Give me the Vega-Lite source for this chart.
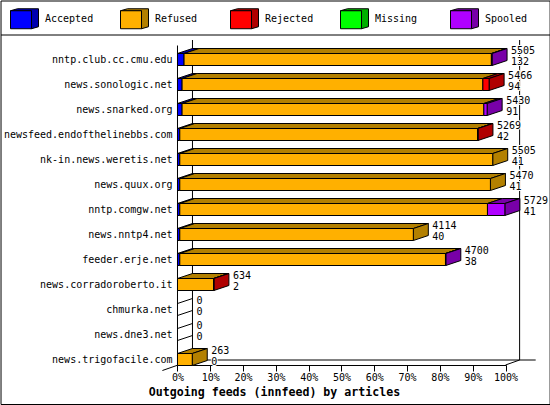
{
"$schema":"https://vega.github.io/schema/vega-lite/v6.json",
"width":329,"height":325,
"autosize":{"type":"none"},
"padding":{"left":177,"top":40,"right":44,"bottom":40},
"background":"white",
"config":{"view":{"stroke":null},"text":{"font":"DejaVu Sans Mono"}},
"datasets":{
"segments":[
{"host":"nntp.club.cc.cmu.edu","row":0,"category":"Accepted","start":0,"end":2.0},
{"host":"nntp.club.cc.cmu.edu","row":0,"category":"Refused","start":2.0,"end":95.7},
{"host":"nntp.club.cc.cmu.edu","row":0,"category":"Spooled","start":95.7,"end":95.9},
{"host":"news.sonologic.net","row":1,"category":"Accepted","start":0,"end":1.4},
{"host":"news.sonologic.net","row":1,"category":"Refused","start":1.4,"end":93.1},
{"host":"news.sonologic.net","row":1,"category":"Rejected","start":93.1,"end":95.0},
{"host":"news.snarked.org","row":2,"category":"Accepted","start":0,"end":1.4},
{"host":"news.snarked.org","row":2,"category":"Refused","start":1.4,"end":93.4},
{"host":"news.snarked.org","row":2,"category":"Spooled","start":93.4,"end":94.4},
{"host":"newsfeed.endofthelinebbs.com","row":3,"category":"Accepted","start":0,"end":0.7},
{"host":"newsfeed.endofthelinebbs.com","row":3,"category":"Refused","start":0.7,"end":91.5},
{"host":"newsfeed.endofthelinebbs.com","row":3,"category":"Rejected","start":91.5,"end":91.6},
{"host":"nk-in.news.weretis.net","row":4,"category":"Accepted","start":0,"end":0.7},
{"host":"nk-in.news.weretis.net","row":4,"category":"Refused","start":0.7,"end":96.1},
{"host":"news.quux.org","row":5,"category":"Accepted","start":0,"end":0.7},
{"host":"news.quux.org","row":5,"category":"Refused","start":0.7,"end":95.4},
{"host":"nntp.comgw.net","row":6,"category":"Accepted","start":0,"end":0.7},
{"host":"nntp.comgw.net","row":6,"category":"Refused","start":0.7,"end":94.5},
{"host":"nntp.comgw.net","row":6,"category":"Spooled","start":94.5,"end":99.8},
{"host":"news.nntp4.net","row":7,"category":"Accepted","start":0,"end":0.7},
{"host":"news.nntp4.net","row":7,"category":"Refused","start":0.7,"end":71.9},
{"host":"feeder.erje.net","row":8,"category":"Accepted","start":0,"end":0.7},
{"host":"feeder.erje.net","row":8,"category":"Refused","start":0.7,"end":81.7},
{"host":"feeder.erje.net","row":8,"category":"Spooled","start":81.7,"end":81.8},
{"host":"news.corradoroberto.it","row":9,"category":"Refused","start":0,"end":11.0},
{"host":"news.corradoroberto.it","row":9,"category":"Rejected","start":11.0,"end":11.1},
{"host":"news.trigofacile.com","row":12,"category":"Refused","start":0,"end":4.5}
],
"hosts":[
{"host":"nntp.club.cc.cmu.edu","row":0,"end":95.9,"last":"Spooled","articles":"5505","other":"132"},
{"host":"news.sonologic.net","row":1,"end":95.0,"last":"Rejected","articles":"5466","other":"94"},
{"host":"news.snarked.org","row":2,"end":94.4,"last":"Spooled","articles":"5430","other":"91"},
{"host":"newsfeed.endofthelinebbs.com","row":3,"end":91.6,"last":"Rejected","articles":"5269","other":"42"},
{"host":"nk-in.news.weretis.net","row":4,"end":96.1,"last":"Refused","articles":"5505","other":"41"},
{"host":"news.quux.org","row":5,"end":95.4,"last":"Refused","articles":"5470","other":"41"},
{"host":"nntp.comgw.net","row":6,"end":99.8,"last":"Spooled","articles":"5729","other":"41"},
{"host":"news.nntp4.net","row":7,"end":71.9,"last":"Refused","articles":"4114","other":"40"},
{"host":"feeder.erje.net","row":8,"end":81.8,"last":"Spooled","articles":"4700","other":"38"},
{"host":"news.corradoroberto.it","row":9,"end":11.1,"last":"Rejected","articles":"634","other":"2"},
{"host":"chmurka.net","row":10,"end":0,"last":"Refused","articles":"0","other":"0"},
{"host":"news.dne3.net","row":11,"end":0,"last":"Refused","articles":"0","other":"0"},
{"host":"news.trigofacile.com","row":12,"end":4.5,"last":"Refused","articles":"263","other":"0"}
]},
"layer":[
{"data":{"values":[{}]},"mark":{"type":"rect","filled":false,"stroke":"black","strokeWidth":1},
 "encoding":{"x":{"datum":-53.8,"type":"quantitative","scale":{"domain":[-0.15,100.15],"nice":false,"zero":false},
   "axis":{"values":[0,10,20,30,40,50,60,70,80,90,100],"tickCount":20,"labelExpr":"datum.value+'%'","labelOverlap":false,"labelBound":false,"labelFlush":false,"labelFont":"DejaVu Sans Mono","labelFontSize":10,"labelColor":"black","labelPadding":1,"tickSize":6,"tickColor":"black","domainColor":"black","grid":false,
     "title":"Outgoing feeds (innfeed) by articles","titleFont":"DejaVu Sans Mono","titleFontSize":11.6,"titleFontWeight":"bold","titleColor":"black","titleX":97,"titleY":27,"titleAlign":"center","titleBaseline":"middle"}},
  "x2":{"datum":113.6},
  "y":{"datum":-2.34,"type":"quantitative","scale":{"domain":[-0.78,12.22],"nice":false,"zero":false,"reverse":true},
   "axis":{"values":[0,1,2,3,4,5,6,7,8,9,10,11,12],"tickCount":20,"labelExpr":"['nntp.club.cc.cmu.edu','news.sonologic.net','news.snarked.org','newsfeed.endofthelinebbs.com','nk-in.news.weretis.net','news.quux.org','nntp.comgw.net','news.nntp4.net','feeder.erje.net','news.corradoroberto.it','chmurka.net','news.dne3.net','news.trigofacile.com'][datum.value]","labelOverlap":false,"labelBound":false,"labelFlush":false,"labelFont":"DejaVu Sans Mono","labelFontSize":10,"labelColor":"black","labelPadding":5,"labelLimit":200,"ticks":false,"domain":false,"grid":false,"title":null}},
  "y2":{"datum":13.8}}},
{"data":{"values":[{}]},"mark":{"type":"rule","color":"black"},"encoding":{"x":{"datum":-53.8,"type":"quantitative"},"x2":{"datum":113.6},"y":{"datum":-0.98,"type":"quantitative"}}},
{"data":{"values":[{}]},"mark":{"type":"rule","color":"black"},"encoding":{"x":{"datum":0,"type":"quantitative"},"y":{"datum":-0.56,"type":"quantitative"},"y2":{"datum":12.22}}},
{"data":{"values":[{}]},"mark":{"type":"rule","color":"black"},"encoding":{"x":{"datum":4.57,"type":"quantitative"},"y":{"datum":-0.78,"type":"quantitative"},"y2":{"datum":12.02}}},
{"data":{"values":[{}]},"mark":{"type":"rule","color":"black"},"encoding":{"x":{"datum":104.3,"type":"quantitative"},"y":{"datum":-0.78,"type":"quantitative"},"y2":{"datum":12.02}}},
{"data":{"values":[{}]},"mark":{"type":"rule","color":"black"},"encoding":{"x":{"datum":4.57,"type":"quantitative"},"x2":{"datum":109.2},"y":{"datum":12.02,"type":"quantitative"}}},
{"data":{"values":[{}]},"mark":{"type":"rule","color":"black"},"encoding":{"x":{"datum":-4.6,"type":"quantitative"},"x2":{"datum":4.57},"y":{"datum":12.44,"type":"quantitative"},"y2":{"datum":12.02}}},
{"data":{"values":[{}]},"mark":{"type":"rule","color":"black"},"encoding":{"x":{"datum":100,"type":"quantitative"},"x2":{"datum":104.3},"y":{"datum":12.22,"type":"quantitative"},"y2":{"datum":12.02}}},
{"data":{"name":"hosts"},"transform":[{"filter":"datum.end==0"},{"calculate":"datum.row-0.24","as":"upperFront"},{"calculate":"datum.row-0.44","as":"upperBack"}],"mark":{"type":"rule","color":"black"},
 "encoding":{"x":{"datum":0,"type":"quantitative"},"x2":{"datum":4.57},"y":{"field":"upperFront","type":"quantitative"},"y2":{"field":"upperBack"}}},
{"data":{"name":"hosts"},"transform":[{"filter":"datum.end==0"},{"calculate":"datum.row+0.24","as":"lowerFront"},{"calculate":"datum.row+0.04","as":"lowerBack"}],"mark":{"type":"rule","color":"black"},
 "encoding":{"x":{"datum":0,"type":"quantitative"},"x2":{"datum":4.57},"y":{"field":"lowerFront","type":"quantitative"},"y2":{"field":"lowerBack"}}},
{"data":{"name":"segments"},
 "transform":[{"calculate":"[0,1]","as":"k"},{"flatten":["k"]},{"calculate":"datum.row-0.24-0.2*datum.k","as":"yv"},{"calculate":"datum.start+4.57*datum.k","as":"xa"},{"calculate":"datum.end+4.57*datum.k","as":"xb"}],
 "mark":{"type":"area","orient":"horizontal","stroke":"black","strokeWidth":1},
 "encoding":{"y":{"field":"yv","type":"quantitative"},"x":{"field":"xa","type":"quantitative","stack":null},"x2":{"field":"xb"},
  "detail":{"field":"host"},
  "fill":{"field":"category","type":"nominal","legend":null,"scale":{"domain":["Accepted","Refused","Rejected","Missing","Spooled"],"range":["#0000b0","#b38000","#b00000","#00b000","#7800a8"]}}}},
{"data":{"name":"hosts"},
 "transform":[{"filter":"datum.end>0"},{"calculate":"[0,1]","as":"k"},{"flatten":["k"]},{"calculate":"datum.end+4.57*datum.k","as":"xv"},{"calculate":"datum.row-0.24-0.2*datum.k","as":"ya"},{"calculate":"datum.row+0.24-0.2*datum.k","as":"yb"}],
 "mark":{"type":"area","orient":"vertical","stroke":"black","strokeWidth":1},
 "encoding":{"x":{"field":"xv","type":"quantitative"},"y":{"field":"ya","type":"quantitative","stack":null},"y2":{"field":"yb"},
  "detail":{"field":"host"},
  "fill":{"field":"last","type":"nominal","scale":{"domain":["Accepted","Refused","Rejected","Missing","Spooled"],"range":["#0000b0","#b38000","#b00000","#00b000","#7800a8"]},
   "legend":{"orient":"none","legendX":-167,"legendY":-36,"direction":"horizontal","columns":5,"gridAlign":"all","columnPadding":24,"title":null,"symbolType":"M-1,-0.571L-0.5,-0.714H1V0.571L0.5,0.714V-0.571H-1Z","symbolSize":784,"symbolStrokeColor":"black","symbolStrokeWidth":1,"labelOffset":6,"labelFont":"DejaVu Sans Mono","labelFontSize":10,"labelColor":"transparent","symbolOpacity":1}}}},
{"data":{"name":"segments"},
 "transform":[{"calculate":"datum.row-0.24","as":"yTop"},{"calculate":"datum.row+0.24","as":"yBottom"}],
 "mark":{"type":"rect","stroke":"black","strokeWidth":1},
 "encoding":{"x":{"field":"start","type":"quantitative"},"x2":{"field":"end"},"y":{"field":"yTop","type":"quantitative"},"y2":{"field":"yBottom"},
  "fill":{"field":"category","type":"nominal","scale":{"domain":["Accepted","Refused","Rejected","Missing","Spooled"],"range":["#0000ff","#ffb000","#ff0000","#00ff00","#b000ff"]},
   "legend":{"orient":"none","legendX":-167,"legendY":-36,"direction":"horizontal","columns":5,"gridAlign":"all","columnPadding":24,"title":null,"symbolType":"M-1,-0.571H0.5V0.714H-1Z","symbolSize":784,"symbolStrokeColor":"black","symbolStrokeWidth":1,"labelOffset":6,"labelFont":"DejaVu Sans Mono","labelFontSize":10,"labelColor":"black","symbolOpacity":1}}}},
{"data":{"name":"hosts"},"mark":{"type":"text","align":"left","baseline":"middle","dx":19,"dy":-9,"fontSize":10,"font":"DejaVu Sans Mono","fill":"black","stroke":"white","strokeWidth":2},
 "encoding":{"x":{"field":"end","type":"quantitative"},"y":{"field":"row","type":"quantitative"},"text":{"field":"articles","type":"nominal"}}},
{"data":{"name":"hosts"},"mark":{"type":"text","align":"left","baseline":"middle","dx":19,"dy":2,"fontSize":10,"font":"DejaVu Sans Mono","fill":"black","stroke":"white","strokeWidth":2},
 "encoding":{"x":{"field":"end","type":"quantitative"},"y":{"field":"row","type":"quantitative"},"text":{"field":"other","type":"nominal"}}},
{"data":{"name":"hosts"},"mark":{"type":"text","align":"left","baseline":"middle","dx":19,"dy":-9,"fontSize":10,"font":"DejaVu Sans Mono","color":"black"},
 "encoding":{"x":{"field":"end","type":"quantitative"},"y":{"field":"row","type":"quantitative"},"text":{"field":"articles","type":"nominal"}}},
{"data":{"name":"hosts"},"mark":{"type":"text","align":"left","baseline":"middle","dx":19,"dy":2,"fontSize":10,"font":"DejaVu Sans Mono","color":"black"},
 "encoding":{"x":{"field":"end","type":"quantitative"},"y":{"field":"row","type":"quantitative"},"text":{"field":"other","type":"nominal"}}}
],
"resolve":{"scale":{"fill":"independent"},"legend":{"fill":"independent"}}
}
